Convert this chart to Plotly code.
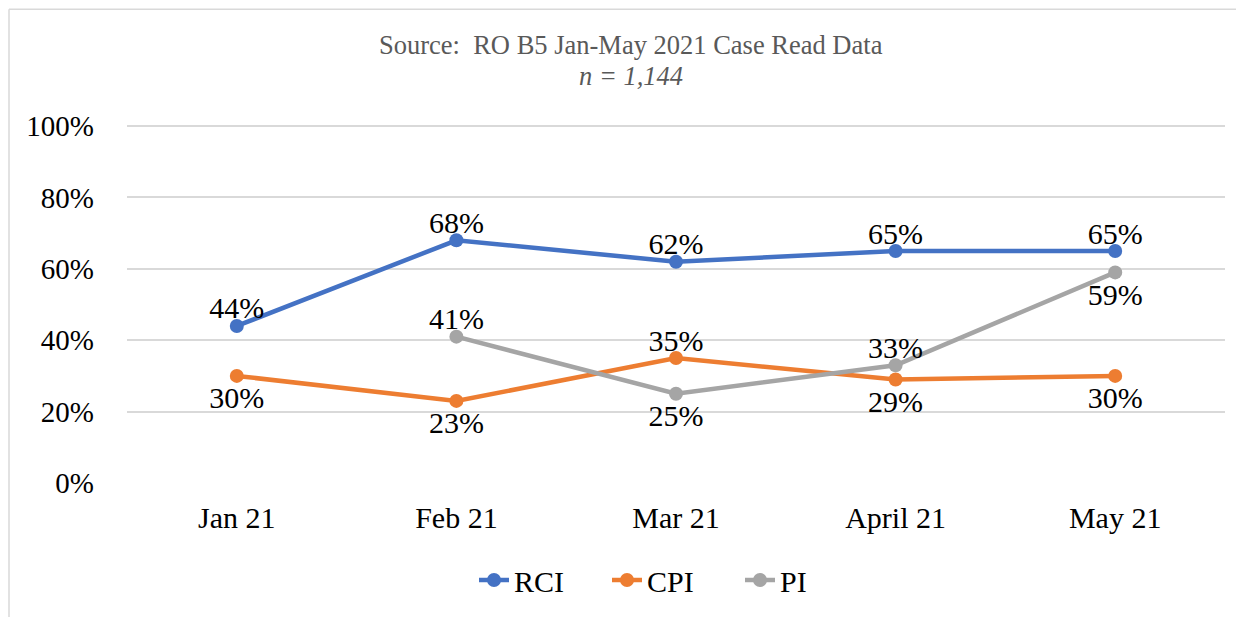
import plotly.graph_objects as go

categories = ["Jan 21", "Feb 21", "Mar 21", "April 21", "May 21"]
rci = [0.44, 0.68, 0.62, 0.65, 0.65]
cpi = [0.30, 0.23, 0.35, 0.29, 0.30]
pi = [None, 0.41, 0.25, 0.33, 0.59]
rci_pos = ["top", "top", "top", "top", "top"]
cpi_pos = ["bottom", "bottom", "top", "bottom", "bottom"]
pi_pos = ["top", "top", "bottom", "top", "bottom"]

FONT = "Liberation Serif, Times New Roman, serif"
OFF = 8  # page body margin
VW, VH = 1244, 617
PL, PR, PT, PB = 127, 1225, 125, 484  # plot area in viewport pixels
W, H = VW - OFF, VH - OFF
L, R, T, B = PL - OFF, VW - PR, PT - OFF, VH - PB

def lbl(vals, pos, want):
    return ["" if (v is None or p != want) else f"{round(v*100)}%" for v, p in zip(vals, pos)]

fig = go.Figure()
series = [
    ("RCI", rci, "#4472C4", rci_pos),
    ("CPI", cpi, "#ED7D31", cpi_pos),
    ("PI", pi, "#A5A5A5", pi_pos),
]
for name, vals, color, pos in series:
    fig.add_trace(go.Scatter(
        x=categories, y=vals, name=name, mode="lines+markers+text",
        line=dict(color=color, width=4.5),
        marker=dict(color=color, size=14),
        text=lbl(vals, pos, "bottom"), textposition="bottom center",
        textfont=dict(family=FONT, size=30, color="#000000"),
        cliponaxis=False,
    ))
for name, vals, color, pos in series:
    fig.add_trace(go.Scatter(
        x=categories, y=vals, name=name, mode="text", showlegend=False,
        text=lbl(vals, pos, "top"), textposition="top center",
        textfont=dict(family=FONT, size=30, color="#000000"),
        cliponaxis=False, hoverinfo="skip",
    ))

def px(x):
    return (x - PL) / (PR - PL)
def py(y):
    return (PB - y) / (PB - PT)

fig.update_layout(
    width=W, height=H,
    margin=dict(l=L, r=R, t=T, b=B),
    paper_bgcolor="white", plot_bgcolor="white",
    font=dict(family=FONT, size=29, color="#000000"),
    showlegend=True,
    legend=dict(orientation="h", x=px(474), xanchor="left", y=py(580), yanchor="middle",
                font=dict(family=FONT, size=30, color="#000000"),
                tracegroupgap=0, entrywidth=88, entrywidthmode="pixels"),
    xaxis=dict(type="category", range=[-0.5, 4.5], showgrid=False, showline=False,
               zeroline=False, ticks="", ticklabelstandoff=14,
               tickfont=dict(family=FONT, size=30)),
    yaxis=dict(range=[0, 1.003], tickvals=[0, 0.2, 0.4, 0.6, 0.8, 1.0], tickformat=".0%",
               showgrid=True, gridcolor="#D9D9D9", gridwidth=1.5, zeroline=False,
               showline=False, ticks="", ticklabelstandoff=32,
               tickfont=dict(family=FONT, size=29)),
    annotations=[
        dict(text="Source:  RO B5 Jan-May 2021 Case Read Data", xref="paper", yref="paper",
             x=px(631), y=py(45), xanchor="center", yanchor="middle", showarrow=False,
             font=dict(family=FONT, size=26.5, color="#595959")),
        dict(text="<i>n = 1,144</i>", xref="paper", yref="paper",
             x=px(631), y=py(76), xanchor="center", yanchor="middle", showarrow=False,
             font=dict(family=FONT, size=26.5, color="#595959")),
    ],
    shapes=[
        dict(type="line", xref="paper", yref="paper", x0=px(9), x1=px(1250), y0=py(9), y1=py(9),
             line=dict(color="#D9D9D9", width=1.5)),
        dict(type="line", xref="paper", yref="paper", x0=px(9), x1=px(9), y0=py(9), y1=py(630),
             line=dict(color="#D9D9D9", width=1.5)),
    ],
)

fig.write_html("out.html")
